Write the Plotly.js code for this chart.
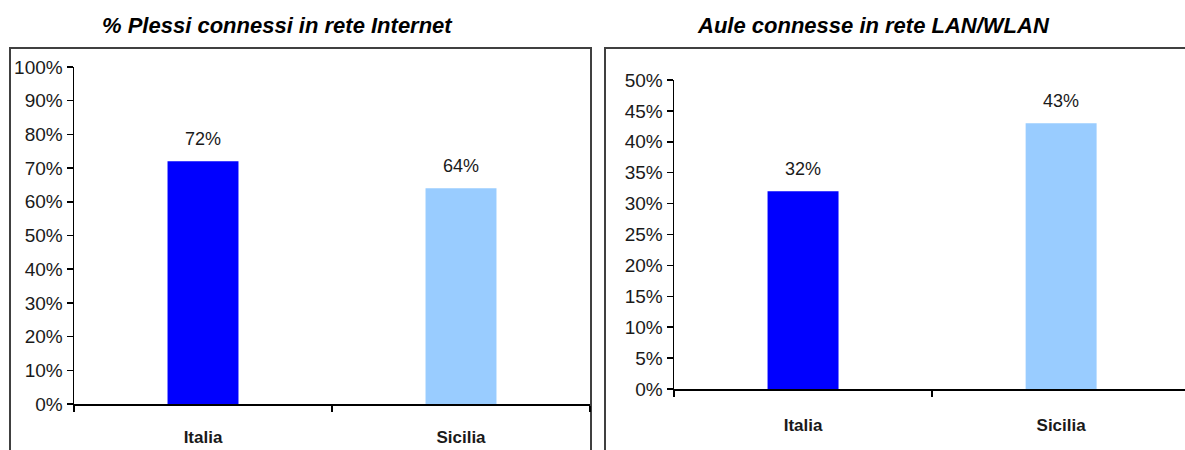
<!DOCTYPE html>
<html>
<head>
<meta charset="utf-8">
<script src="https://cdn.plot.ly/plotly-3.0.1.min.js"></script>
<style>html,body{margin:0;padding:0;background:#fff}#chart{width:1185px;height:450px}</style>
</head>
<body>
<div id="chart"></div>
<script>
const categories = ["Italia", "Sicilia"];
const plessiValues = [72, 64];
const auleValues = [32, 43];
const barColors = ["#0000FF", "#99CCFF"];
const titleLeft = "% Plessi connessi in rete Internet";
const titleRight = "Aule connesse in rete LAN/WLAN";

const W = 1185, H = 450;
const px = v => v / W;
const py = v => 1 - v / H;
const FONT = "Liberation Sans, Arial, sans-serif";

const traces = [
  {type: "bar", x: categories, y: plessiValues, xaxis: "x", yaxis: "y",
   marker: {color: barColors}, width: 0.275, hoverinfo: "skip"},
  {type: "bar", x: categories, y: auleValues, xaxis: "x2", yaxis: "y2",
   marker: {color: barColors}, width: 0.275, hoverinfo: "skip"}
];

const annotations = [];
categories.forEach((c, i) => {
  annotations.push({xref: "x", yref: "y", x: c, y: plessiValues[i], text: plessiValues[i] + "%",
    showarrow: false, yanchor: "bottom", yshift: 10, font: {family: FONT, size: 18, color: "#1a1a1a"}});
  annotations.push({xref: "x2", yref: "y2", x: c, y: auleValues[i], text: auleValues[i] + "%",
    showarrow: false, yanchor: "bottom", yshift: 10, font: {family: FONT, size: 18, color: "#1a1a1a"}});
});
annotations.push({xref: "paper", yref: "paper", x: px(277), y: py(25), text: "<b><i>" + titleLeft + "</i></b>",
  showarrow: false, xanchor: "center", yanchor: "middle", font: {family: FONT, size: 22, color: "#000"}});
annotations.push({xref: "paper", yref: "paper", x: px(873), y: py(25), text: "<b><i>" + titleRight + "</i></b>",
  showarrow: false, xanchor: "center", yanchor: "middle", font: {family: FONT, size: 22, color: "#000"}});

const xCommon = {
  type: "category", showline: true, linecolor: "#000", linewidth: 1.5,
  ticks: "outside", tickson: "boundaries", ticklen: 6, tickcolor: "#000", tickwidth: 1.5,
  showgrid: false, zeroline: false, ticklabelstandoff: 17,
  tickfont: {family: FONT, size: 17, color: "#1a1a1a", weight: "bold"}, fixedrange: true
};
const yCommon = {
  showline: true, linecolor: "#000", linewidth: 1.5, ticks: "outside", ticklen: 6,
  tickcolor: "#000", tickwidth: 1.5, showgrid: false, zeroline: false, ticksuffix: "%",
  tickfont: {family: FONT, size: 19, color: "#1a1a1a"}, fixedrange: true
};

const layout = {
  width: W, height: H, margin: {l: 0, r: 0, t: 0, b: 0},
  paper_bgcolor: "#fff", plot_bgcolor: "rgba(0,0,0,0)", showlegend: false,
  xaxis: Object.assign({}, xCommon, {domain: [px(74), px(590)], range: [-0.5, 1.5], anchor: "y"}),
  yaxis: Object.assign({}, yCommon, {domain: [py(404), py(67)], range: [0, 100], dtick: 10, anchor: "x"}),
  xaxis2: Object.assign({}, xCommon, {domain: [px(674), 1], range: [-0.5, 1.48], anchor: "y2", ticklabelstandoff: 20}),
  yaxis2: Object.assign({}, yCommon, {domain: [py(389), py(80)], range: [0, 50], dtick: 5, anchor: "x2"}),
  annotations: annotations,
  shapes: [
    {type: "rect", xref: "paper", yref: "paper", x0: px(10), x1: px(591), y0: py(460), y1: py(48),
     line: {color: "#404040", width: 2}, fillcolor: "rgba(0,0,0,0)", layer: "below"},
    {type: "rect", xref: "paper", yref: "paper", x0: px(605), x1: px(1195), y0: py(460), y1: py(48),
     line: {color: "#404040", width: 2}, fillcolor: "rgba(0,0,0,0)", layer: "below"}
  ]
};

Plotly.newPlot("chart", traces, layout, {displayModeBar: false, staticPlot: true});
</script>
</body>
</html>
